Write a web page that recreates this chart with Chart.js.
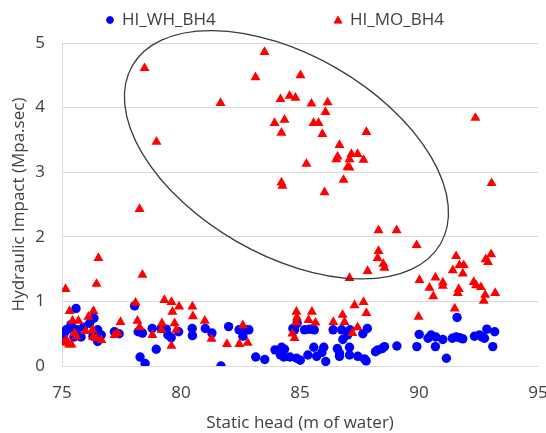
<!DOCTYPE html>
<html>
<head>
<meta charset="utf-8">
<script src="https://cdn.jsdelivr.net/npm/chart.js@4.4.1/dist/chart.umd.min.js"></script>
<style>
  html, body { margin: 0; padding: 0; background: #ffffff; }
  #wrap { width: 546px; height: 433px; }
</style>
</head>
<body>
<div id="wrap"><canvas id="c" width="546" height="433"></canvas></div>
<script>
// Series labels
const seriesNames = ['HI_WH_BH4', 'HI_MO_BH4'];

// HI_WH_BH4 : static head (m) and hydraulic impact (MPa.s)
const whHead = [
  75.06, 75.10, 75.18, 75.30, 75.38, 75.50, 75.59, 75.62, 75.80, 75.90, 76.16, 76.30, 76.34, 76.50, 76.50, 76.65,
  77.20, 77.40, 78.05, 78.20, 78.28, 78.38, 78.49, 78.79, 78.96, 79.17, 79.38, 79.45, 79.59, 79.90,
  80.47, 80.48, 81.02, 81.30, 81.68, 82.00, 82.44, 82.60, 82.74, 82.85, 83.14, 83.52, 83.95,
  84.18, 84.23, 84.32, 84.35, 84.58, 84.70, 84.77, 84.86, 84.88, 85.01, 85.19, 85.33, 85.40, 85.58, 85.60, 85.70,
  85.92, 86.00, 86.08, 86.39, 86.57, 86.66, 86.66, 86.75, 86.80, 87.00, 87.08, 87.08, 87.10, 87.43, 87.64, 87.71,
  87.78, 87.83, 88.17, 88.27, 88.45, 88.55, 89.07, 89.91, 90.01, 90.38, 90.51, 90.69, 90.70, 91.00, 91.15,
  91.40, 91.56, 91.60, 91.70, 91.84, 92.33, 92.54, 92.65, 92.75, 92.85, 93.10, 93.18
];
const whImpact = [
  0.48, 0.51, 0.56, 0.58, 0.64, 0.45, 0.89, 0.56, 0.45, 0.60, 0.66, 0.46, 0.74, 0.56, 0.38, 0.48,
  0.53, 0.50, 0.93, 0.53, 0.14, 0.51, 0.04, 0.58, 0.26, 0.58, 0.57, 0.48, 0.44, 0.53,
  0.58, 0.47, 0.58, 0.51, 0.00, 0.61, 0.56, 0.46, 0.56, 0.56, 0.14, 0.10, 0.25,
  0.17, 0.29, 0.14, 0.26, 0.14, 0.58, 0.56, 0.12, 0.66, 0.09, 0.56, 0.17, 0.57, 0.29, 0.56, 0.15,
  0.21, 0.29, 0.07, 0.56, 0.27, 0.15, 0.20, 0.56, 0.41, 0.48, 0.29, 0.17, 0.56, 0.15, 0.50, 0.11,
  0.08, 0.58, 0.22, 0.25, 0.27, 0.30, 0.31, 0.30, 0.49, 0.43, 0.48, 0.30, 0.45, 0.41, 0.12,
  0.43, 0.45, 0.75, 0.44, 0.42, 0.46, 0.48, 0.45, 0.43, 0.57, 0.30, 0.53
];

// HI_MO_BH4 : static head (m) and hydraulic impact (MPa.s)
const moHead = [
  75.06, 75.15, 75.19, 75.30, 75.32, 75.40, 75.44, 75.53, 75.60, 75.69, 75.99, 76.11, 76.28, 76.30, 76.32, 76.45,
  76.45, 76.53, 76.66, 77.21, 77.33, 77.46, 78.09, 78.17, 78.26, 78.26, 78.38, 78.47, 78.80, 78.97,
  79.18, 79.20, 79.30, 79.60, 79.60, 79.64, 79.73, 79.80, 79.92, 80.48, 80.50, 81.00, 81.28, 81.66, 81.93,
  82.45, 82.60, 82.80, 83.13, 83.51, 83.93, 84.18, 84.22, 84.22, 84.26, 84.35, 84.56, 84.68, 84.77, 84.81,
  84.85, 84.85, 84.87, 85.02, 85.27, 85.36, 85.48, 85.50, 85.57, 85.65, 85.78, 85.94, 86.03, 86.07, 86.16,
  86.40, 86.53, 86.58, 86.66, 86.79, 86.83, 86.87, 87.00, 87.08, 87.08, 87.08, 87.16, 87.20, 87.29, 87.42,
  87.42, 87.67, 87.67, 87.79, 87.79, 87.84, 88.26, 88.30, 88.30, 88.50, 88.55, 89.06, 89.90, 89.98, 90.02,
  90.44, 90.60, 90.69, 91.00, 91.00, 91.42, 91.50, 91.56, 91.63, 91.67, 91.70, 91.84, 91.88, 92.30, 92.37,
  92.40, 92.60, 92.72, 92.78, 92.80, 92.90, 93.03, 93.05, 93.20
];
const moImpact = [
  0.36, 1.19, 0.40, 0.33, 0.85, 0.33, 0.70, 0.51, 0.46, 0.70, 0.54, 0.76, 0.56, 0.45, 0.85, 0.43,
  1.27, 1.67, 0.40, 0.48, 0.51, 0.68, 0.98, 0.70, 0.60, 2.43, 1.41, 4.61, 0.48, 3.47,
  0.56, 0.66, 1.02, 0.99, 0.31, 0.84, 0.66, 0.56, 0.92, 0.92, 0.77, 0.70, 0.42, 4.07, 0.34,
  0.34, 0.63, 0.36, 4.47, 4.86, 3.76, 4.13, 3.61, 2.84, 2.79, 3.81, 4.18, 0.50, 0.43, 4.15,
  0.84, 0.67, 0.75, 4.50, 3.13, 0.71, 4.06, 0.84, 3.76, 0.67, 3.76, 3.59, 2.69, 3.93, 4.08,
  0.68, 3.20, 3.24, 3.42, 0.79, 2.88, 0.68, 3.08, 3.20, 3.07, 1.36, 3.28, 0.51, 0.94, 3.28,
  0.60, 3.19, 0.99, 3.62, 0.82, 1.47, 1.67, 1.78, 2.10, 1.58, 1.52, 2.10, 1.87, 0.76, 1.33,
  1.21, 1.08, 1.37, 1.24, 1.29, 1.48, 0.89, 1.70, 1.13, 1.19, 1.56, 1.43, 1.56, 1.30, 3.84,
  1.25, 1.22, 1.01, 1.10, 1.65, 1.61, 1.73, 2.83, 1.13
];

// Axis ranges and tick steps
const headRange = [75, 95];
const headStep = 5;
const impactRange = [0, 5];
const impactStep = 1;

// Centre of the highlighted group (head, impact)
const groupCentre = [84.43, 3.27];

const toPoints = (xs, ys) => xs.map((x, i) => ({ x: x, y: ys[i] }));

const textColor = '#404040';
const gridColor = '#d9d9d9';
const fontFamily = '"Open Sans", "Noto Sans", sans-serif';

// Outline ellipse around the high-impact group, placed through the scales
const groupOutline = {
  id: 'groupOutline',
  afterDatasetsDraw(chart) {
    const { ctx, scales } = chart;
    const cx = scales.x.getPixelForValue(groupCentre[0]);
    const cy = scales.y.getPixelForValue(groupCentre[1]);
    ctx.save();
    ctx.beginPath();
    ctx.ellipse(cx, cy, 178, 100, Math.PI / 6, 0, Math.PI * 2);
    ctx.strokeStyle = '#3a3a3a';
    ctx.lineWidth = 1.3;
    ctx.stroke();
    ctx.restore();
  }
};

// Legend row across the top, using each dataset's own marker style
const topLegend = {
  id: 'topLegend',
  afterDraw(chart) {
    const { ctx } = chart;
    const slots = [110, 338];
    const y = 20;
    ctx.save();
    chart.data.datasets.forEach((ds, i) => {
      const x = slots[i];
      ctx.fillStyle = ds.backgroundColor;
      ctx.strokeStyle = ds.borderColor;
      ctx.lineWidth = 1;
      Chart.helpers.drawPoint(ctx, {
        pointStyle: ds.pointStyle,
        radius: ds.pointStyle === 'triangle' ? 4.6 : 3.4,
        borderWidth: 1,
        rotation: 0
      }, x, ds.pointStyle === 'triangle' ? y + 0.8 : y);
      ctx.fillStyle = textColor;
      ctx.font = '17px ' + fontFamily;
      ctx.textBaseline = 'middle';
      ctx.textAlign = 'left';
      ctx.fillText(ds.label, x + 12, y);
    });
    ctx.restore();
  }
};

new Chart(document.getElementById('c'), {
  type: 'scatter',
  data: {
    datasets: [
      {
        label: seriesNames[0],
        data: toPoints(whHead, whImpact),
        pointStyle: 'circle',
        pointRadius: 4.7,
        backgroundColor: '#0000ff',
        borderColor: '#0000ff',
        borderWidth: 0,
        order: 1
      },
      {
        label: seriesNames[1],
        data: toPoints(moHead, moImpact),
        pointStyle: 'triangle',
        pointRadius: 5.8,
        backgroundColor: '#ff0000',
        borderColor: '#ff0000',
        borderWidth: 0,
        order: 0
      }
    ]
  },
  options: {
    responsive: false,
    animation: false,
    devicePixelRatio: 1,
    layout: { padding: { left: 0, right: 8, top: 43, bottom: 0 } },
    plugins: {
      legend: { display: false },
      tooltip: { enabled: false }
    },
    scales: {
      x: {
        type: 'linear',
        min: headRange[0],
        max: headRange[1],
        afterFit(scale) {
          scale.height = 67;
          // let the last tick label run past the canvas edge
          scale.paddingRight = 0;
          scale.paddingLeft = 0;
        },
        ticks: {
          stepSize: headStep,
          color: textColor,
          padding: 17,
          font: { family: fontFamily, size: 17 }
        },
        grid: { display: false, drawTicks: false },
        border: { display: false },
        title: {
          display: true,
          text: 'Static head (m of water)',
          color: textColor,
          font: { family: fontFamily, size: 17 },
          padding: { top: 0, bottom: 0 }
        }
      },
      y: {
        type: 'linear',
        min: impactRange[0],
        max: impactRange[1],
        afterFit(scale) { scale.width = 62; },
        ticks: {
          stepSize: impactStep,
          color: textColor,
          padding: 17,
          font: { family: fontFamily, size: 17 }
        },
        grid: { color: gridColor, lineWidth: 1, drawTicks: false },
        border: { display: true, color: gridColor, width: 1 },
        title: {
          display: true,
          text: 'Hydraulic Impact (Mpa.sec)',
          color: textColor,
          font: { family: fontFamily, size: 17 },
          padding: { top: 9, bottom: 0 }
        }
      }
    }
  },
  plugins: [groupOutline, topLegend]
});
</script>
</body>
</html>
